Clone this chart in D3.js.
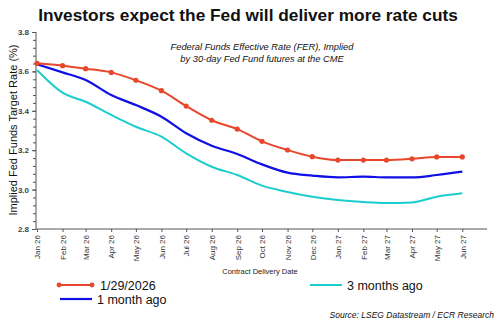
<!DOCTYPE html>
<html><head><meta charset="utf-8">
<script src="https://cdn.jsdelivr.net/npm/d3@7"></script>
<style>body{margin:0;background:#fff}svg{display:block;font-family:Arial,"Liberation Sans",sans-serif}</style>
</head><body><svg id="c" width="500" height="324"></svg>
<script>
const months = ["2026-01","2026-02","2026-03","2026-04","2026-05","2026-06","2026-07","2026-08","2026-09","2026-10","2026-11","2026-12","2027-01","2027-02","2027-03","2027-04","2027-05","2027-06"];
const tickLabels = ["Jan 26","Feb 26","Mar 26","Apr 26","May 26","Jun 26","Jul 26","Aug 26","Sep 26","Oct 26","Nov 26","Dec 26","Jan 27","Feb 27","Mar 27","Apr 27","May 27","Jun 27"];
const current = [3.641,3.629,3.614,3.595,3.555,3.502,3.424,3.352,3.307,3.245,3.201,3.167,3.150,3.150,3.150,3.156,3.166,3.166];
const oneMonth = [3.636,3.595,3.556,3.480,3.429,3.370,3.286,3.223,3.181,3.128,3.086,3.071,3.062,3.066,3.062,3.062,3.074,3.091];
const threeMonths = [3.607,3.492,3.446,3.379,3.319,3.269,3.184,3.116,3.074,3.020,2.988,2.964,2.947,2.937,2.932,2.935,2.964,2.981];
const yTicks = [2.8,3.0,3.2,3.4,3.6,3.8];

const svg = d3.select("#c");
const parse = d3.utcParse("%Y-%m");
const dates = months.map(parse);
const x = d3.scaleUtc().domain([parse("2026-01"), parse("2027-07")]).range([37, 487]);
const y = d3.scaleLinear().domain([2.8, 3.8]).range([229, 32]);

svg.append("text").attr("x", 248).attr("y", 21).attr("text-anchor","middle")
  .attr("font-size", 17.3).attr("font-weight","bold").attr("fill","#111")
  .text("Investors expect the Fed will deliver more rate cuts");
const sub = svg.append("text").attr("text-anchor","middle").attr("font-size",9.3).attr("font-style","italic").attr("fill","#111");
sub.append("tspan").attr("x",262).attr("y",50).text("Federal Funds Effective Rate (FER), Implied");
sub.append("tspan").attr("x",262).attr("y",62).text("by 30-day Fed Fund futures at the CME");

// y axis
const minor = d3.range(2.8, 3.8001, 0.04);
svg.append("g").attr("transform","translate(36,0)")
  .call(d3.axisLeft(y).tickValues(minor).tickSize(3).tickFormat(""))
  .call(g=>g.select(".domain").remove())
  .selectAll("line").attr("stroke","#555");
const ya = svg.append("g").attr("transform","translate(36,0)")
  .call(d3.axisLeft(y).tickValues(yTicks).tickSize(4).tickPadding(3).tickFormat(d3.format(".1f")));
ya.select(".domain").attr("stroke","#555").attr("d","M0,32V229");
ya.selectAll("line").attr("stroke","#555");
ya.selectAll("text").attr("font-size",8).attr("font-weight","bold").attr("fill","#444").attr("font-family","Arial,'Liberation Sans',sans-serif");

svg.append("text").attr("transform","translate(17,130) rotate(-90)").attr("text-anchor","middle")
  .attr("font-size",11).attr("fill","#111").text("Implied Fed Funds Target Rate (%)");

// x axis
const xa = svg.append("g").attr("transform","translate(0,229)")
  .call(d3.axisBottom(x).tickValues(dates).tickSize(3).tickFormat((d,i)=>tickLabels[i]));
xa.select(".domain").attr("stroke","#555").attr("d","M36,0H487");
xa.selectAll("line").attr("stroke","#555");
xa.selectAll("text").attr("font-size",8).attr("fill","#333").attr("font-family","Arial,'Liberation Sans',sans-serif")
  .attr("transform","rotate(-90)").attr("text-anchor","end").attr("x",-6).attr("y",0).attr("dy","0.35em");

svg.append("text").attr("x",260).attr("y",274).attr("text-anchor","middle").attr("font-size",7.5).attr("fill","#222")
  .text("Contract Delivery Date");

// lines
const line = d3.line().x((d,i)=>x(dates[i])).y(d=>y(d)).curve(d3.curveMonotoneX);
const series = [
  {v: threeMonths, c:"#1ccdcd", w:2},
  {v: oneMonth, c:"#1010e6", w:2.2},
  {v: current, c:"#e8472c", w:2}
];
series.forEach(s=>{
  svg.append("path").datum(s.v).attr("d",line).attr("fill","none").attr("stroke",s.c).attr("stroke-width",s.w);
});
svg.append("g").selectAll("circle").data(current).join("circle")
  .attr("cx",(d,i)=>x(dates[i])).attr("cy",d=>y(d)).attr("r",2.6).attr("fill","#e8472c");

// legend
const lg = svg.append("g");
lg.append("line").attr("x1",59).attr("x2",92).attr("y1",285).attr("y2",285).attr("stroke","#e8472c").attr("stroke-width",2);
lg.append("circle").attr("cx",59).attr("cy",285).attr("r",2.4).attr("fill","#e8472c");
lg.append("circle").attr("cx",92).attr("cy",285).attr("r",2.4).attr("fill","#e8472c");
lg.append("text").attr("x",100).attr("y",289.5).attr("font-size",12.5).attr("fill","#111").text("1/29/2026");
lg.append("line").attr("x1",60).attr("x2",92).attr("y1",299).attr("y2",299).attr("stroke","#1010e6").attr("stroke-width",2.2);
lg.append("text").attr("x",97).attr("y",303.5).attr("font-size",12.5).attr("fill","#111").text("1 month ago");
lg.append("line").attr("x1",310).attr("x2",342).attr("y1",285).attr("y2",285).attr("stroke","#1ccdcd").attr("stroke-width",2);
lg.append("text").attr("x",347).attr("y",289.5).attr("font-size",12.5).attr("fill","#111").text("3 months ago");

svg.append("text").attr("x",494).attr("y",318).attr("text-anchor","end").attr("font-size",8.5)
  .attr("font-style","italic").attr("fill","#111").text("Source: LSEG Datastream / ECR Research");
</script></body></html>
